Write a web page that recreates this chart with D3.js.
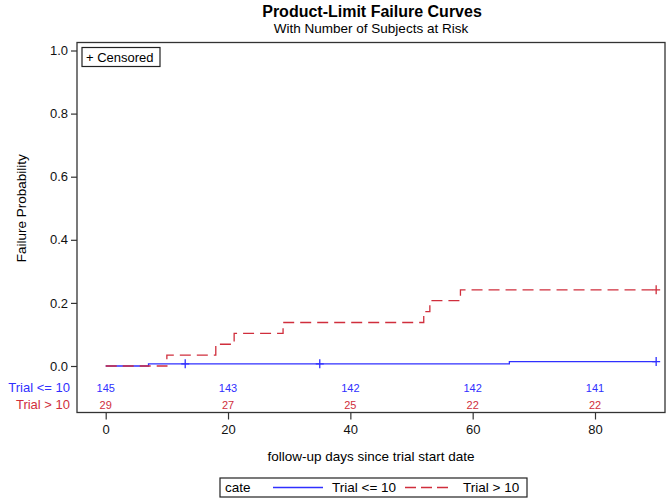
<!DOCTYPE html>
<html>
<head>
<meta charset="utf-8">
<script src="https://cdn.jsdelivr.net/npm/d3@7"></script>
<style>
  body { margin: 0; background: #fff; }
  svg { display: block; font-family: "Liberation Sans", Arial, sans-serif; }
</style>
</head>
<body>
<svg width="672" height="499"></svg>
<script>
// step curves (days, failure probability)
var lowTimes = [0, 7, 66, 90];
var lowFail = [0, 0.0069, 0.0139, 0.0139];
var lowCensor = [13, 35, 90];

var highTimes = [0, 10, 18, 21, 29, 52, 53, 58, 90];
var highFail = [0, 0.0345, 0.069, 0.1034, 0.1379, 0.1724, 0.2069, 0.2414, 0.2414];
var highCensor = [90];

// number at risk table
var riskDays = [0, 20, 40, 60, 80];
var lowRisk = [145, 143, 142, 142, 141];
var highRisk = [29, 27, 25, 22, 22];

var xTicks = [0, 20, 40, 60, 80];
var yTicks = [0, 0.2, 0.4, 0.6, 0.8, 1.0];

var groups = ["Trial <= 10", "Trial > 10"];
var blue = "#3030ff";
var red = "#d02e3c";

var svg = d3.select("svg");

// frame of the plot area
var frame = { left: 77, right: 665, top: 42.5, bottom: 412.5 };

var x = d3.scaleLinear().domain([0, 80]).range([105.7, 595]);
var y = d3.scaleLinear().domain([0, 1]).range([366, 50.5]);

// titles
svg.append("text")
  .attr("x", 372).attr("y", 17)
  .attr("text-anchor", "middle")
  .attr("font-size", 16).attr("font-weight", "bold")
  .text("Product-Limit Failure Curves");
svg.append("text")
  .attr("x", 371).attr("y", 32.5)
  .attr("text-anchor", "middle")
  .attr("font-size", 13.5)
  .text("With Number of Subjects at Risk");

// axes, ticks go outside of the frame
var yAxis = d3.axisLeft(y).tickValues(yTicks).tickFormat(d3.format(".1f")).tickSize(6).tickPadding(3);
var yg = svg.append("g").attr("transform", "translate(" + frame.left + ",0)").call(yAxis);
yg.select(".domain").remove();

var xAxis = d3.axisBottom(x).tickValues(xTicks).tickSize(7).tickPadding(5);
var xg = svg.append("g").attr("transform", "translate(0," + frame.bottom + ")").call(xAxis);
xg.select(".domain").remove();

svg.selectAll(".tick text").attr("font-size", 13).attr("fill", "#111")
  .attr("font-family", "Liberation Sans, Arial, sans-serif");
svg.selectAll(".tick line").attr("stroke", "#333").attr("stroke-width", 1.2);

svg.append("rect")
  .attr("x", frame.left).attr("y", frame.top)
  .attr("width", frame.right - frame.left).attr("height", frame.bottom - frame.top)
  .attr("fill", "none").attr("stroke", "#333").attr("stroke-width", 1.3);

// axis labels
svg.append("text")
  .attr("transform", "translate(26," + ((frame.top + 366) / 2 + 4) + ") rotate(-90)")
  .attr("text-anchor", "middle")
  .attr("font-size", 13.5)
  .text("Failure Probability");
svg.append("text")
  .attr("x", 371).attr("y", 461)
  .attr("text-anchor", "middle")
  .attr("font-size", 13.5)
  .text("follow-up days since trial start date");

// curves
var step = d3.line()
  .x(function(d) { return x(d[0]); })
  .y(function(d) { return y(d[1]); })
  .curve(d3.curveStepAfter);

function drawCurve(times, fail, censor, color, dash) {
  svg.append("path")
    .datum(d3.zip(times, fail))
    .attr("d", step)
    .attr("fill", "none")
    .attr("stroke", color)
    .attr("stroke-width", 1.3)
    .attr("stroke-dasharray", dash);

  // censored marks drawn as small crosses
  censor.forEach(function(t) {
    var i = d3.bisectRight(times, t) - 1;
    var cx = x(t), cy = y(fail[i]);
    svg.append("path")
      .attr("d", "M" + (cx - 4) + "," + cy + "H" + (cx + 4) + "M" + cx + "," + (cy - 4.5) + "V" + (cy + 4.5))
      .attr("stroke", color)
      .attr("stroke-width", 1.3);
  });
}

drawCurve(lowTimes, lowFail, lowCensor, blue, null);
drawCurve(highTimes, highFail, highCensor, red, "11,6");

// censored legend
var cens = svg.append("g");
cens.append("rect")
  .attr("x", 82).attr("y", 47.5).attr("width", 78).attr("height", 19)
  .attr("fill", "#fff").attr("stroke", "#222").attr("stroke-width", 1.2);
cens.append("text")
  .attr("x", 86).attr("y", 61.5)
  .attr("font-size", 13)
  .text("+ Censored");

// number at risk rows
var riskRows = [
  { label: groups[0], values: lowRisk, color: blue, y: 392 },
  { label: groups[1], values: highRisk, color: red, y: 409 }
];
riskRows.forEach(function(r) {
  svg.append("text")
    .attr("x", 70).attr("y", r.y)
    .attr("text-anchor", "end")
    .attr("font-size", 13)
    .attr("fill", r.color)
    .text(r.label);
  svg.selectAll(null)
    .data(d3.zip(riskDays, r.values))
    .enter().append("text")
    .attr("x", function(d) { return x(d[0]); })
    .attr("y", r.y - 0.5)
    .attr("text-anchor", "middle")
    .attr("font-size", 11)
    .attr("fill", r.color)
    .text(function(d) { return d[1]; });
});

// bottom legend
var lg = svg.append("g");
lg.append("rect")
  .attr("x", 220).attr("y", 478).attr("width", 307).attr("height", 19)
  .attr("fill", "#fff").attr("stroke", "#222").attr("stroke-width", 1.2);
lg.append("text").attr("x", 225).attr("y", 492).attr("font-size", 13.5).text("cate");
lg.append("line")
  .attr("x1", 273).attr("x2", 323).attr("y1", 487.5).attr("y2", 487.5)
  .attr("stroke", blue).attr("stroke-width", 1.3);
lg.append("text").attr("x", 332).attr("y", 492).attr("font-size", 13.5).text(groups[0]);
lg.append("line")
  .attr("x1", 405).attr("x2", 448).attr("y1", 487.5).attr("y2", 487.5)
  .attr("stroke", red).attr("stroke-width", 1.3).attr("stroke-dasharray", "11,5");
lg.append("text").attr("x", 463).attr("y", 492).attr("font-size", 13.5).text(groups[1]);
</script>
</body>
</html>
